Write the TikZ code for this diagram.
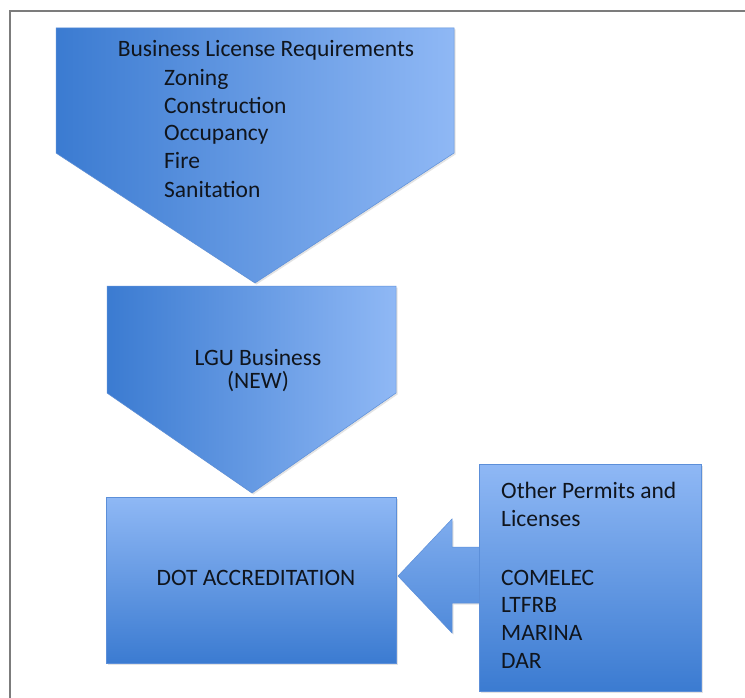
\documentclass[tikz,border=0pt]{standalone}
\usepackage{fontspec}
\setmainfont{Carlito}
\usetikzlibrary{shadows}
\definecolor{bluedark}{HTML}{3B7BD1}
\definecolor{bluelight}{HTML}{8FB8F5}
\definecolor{edgeblue}{HTML}{5C8FD9}
\definecolor{framegray}{HTML}{7C7C7C}
\definecolor{ink}{HTML}{10151D}
\tikzset{
  soft/.style={drop shadow={opacity=0.22, shadow xshift=1.5pt, shadow yshift=-1.5pt}},
  hgrad/.style={soft, left color=bluedark, right color=bluelight, draw=edgeblue, line width=0.5pt},
  vgrad/.style={soft, top color=bluelight, bottom color=bluedark, draw=edgeblue, line width=0.5pt},
  label/.style={font=\fontsize{23.5}{27.6}\selectfont, text=ink, inner sep=0pt},
}
\begin{document}
\begin{tikzpicture}[x=1pt, y=-1pt]
\useasboundingbox (0,0) rectangle (745,698);
\fill[white] (0,0) rectangle (745,698);
% outer frame (left and top edges)
\draw[framegray, line width=2pt] (10,698) -- (10,11) -- (745,11);

% chevron: business license requirements
\path[hgrad] (56,28) -- (454,28) -- (454,153) -- (255,283) -- (56,153) -- cycle;
% chevron: LGU business
\path[hgrad] (107,286) -- (396,286) -- (396,393) -- (252,493) -- (107,393) -- cycle;
% DOT accreditation box
\path[vgrad] (106,497) rectangle (396,663);
% block arrow pointing left into the accreditation box
\path[vgrad, top color=bluelight!80!bluedark, bottom color=bluedark!75!bluelight]
  (398,576) -- (452,519) -- (452,547) -- (481,547) -- (481,603) -- (452,603) -- (452,633) -- cycle;
% other permits box
\path[vgrad] (479,464) rectangle (701,691);

% texts
\node[label, anchor=base] (blr) at (266,57) {Business License Requirements};
\node[label, anchor=base west] (zon) at (164,86) {Zoning};
\node[label, anchor=base west] (con) at (164,114) {Construction};
\node[label, anchor=base west] (occ) at (164,141) {Occupancy};
\node[label, anchor=base west] (fir) at (164,169) {Fire};
\node[label, anchor=base west] (san) at (164,197) {Sanitation};

\node[label, anchor=base] (lgu) at (258,365) {LGU Business};
\node[label, anchor=base] (new) at (258,388) {(NEW)};

\node[label, anchor=base] (dot) at (256,585) {DOT ACCREDITATION};

\node[label, anchor=base west] (opl) at (501,498) {Other Permits and};
\node[label, anchor=base west] (lic) at (501,526) {Licenses};
\node[label, anchor=base west] (com) at (501,585) {COMELEC};
\node[label, anchor=base west] (ltf) at (501,612) {LTFRB};
\node[label, anchor=base west] (mar) at (501,640) {MARINA};
\node[label, anchor=base west] (dar) at (501,668) {DAR};
\end{tikzpicture}
\end{document}
